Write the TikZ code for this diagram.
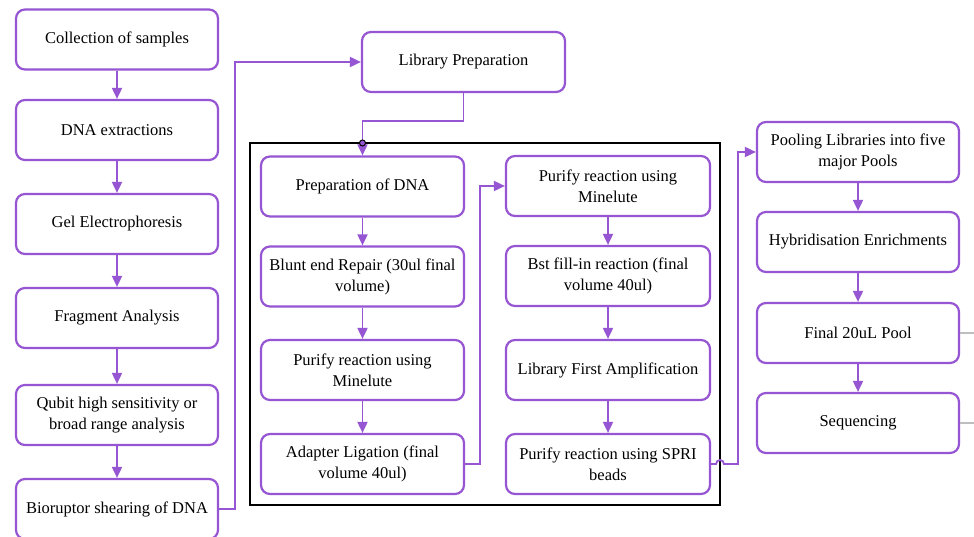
\documentclass[tikz,border=0pt]{standalone}
\usepackage{fontspec}
\setmainfont{Liberation Serif}
\usetikzlibrary{arrows.meta}
\definecolor{pur}{RGB}{150,85,210}
\definecolor{lgray}{RGB}{190,190,190}
\begin{document}
\begin{tikzpicture}[x=1pt,y=-1pt,
  box/.style={draw=pur,line width=2.2pt,rounded corners=9pt,minimum height=60pt,
    align=center,font=\fontsize{16.5}{21}\selectfont,inner sep=2pt},
  lbox/.style={box,minimum width=202pt},
  conn/.style={draw=pur,line width=1.8pt,-{Triangle[width=10pt,length=11pt]}},
  plain/.style={draw=pur,line width=1.8pt}]
\clip (0,0) rectangle (974,537);
\fill[white] (0,0) rectangle (974,537);
% black frame
\draw[line width=2pt] (250,143) rectangle (720,505);
% left column
\node[lbox] (a1) at (117,39.5) {Collection of samples};
\node[lbox] (a2) at (117,130) {DNA extractions};
\node[lbox] (a3) at (117,224) {Gel Electrophoresis};
\node[lbox] (a4) at (117,318) {Fragment Analysis};
\node[lbox] (a5) at (117,415) {Qubit high sensitivity or\\broad range analysis};
\node[lbox] (a6) at (117,509) {Bioruptor shearing of DNA};
% library prep
\node[lbox,minimum width=203pt] (lp) at (463.5,62) {Library Preparation};
% column 1
\node[lbox,minimum width=203pt] (b1) at (362.5,186.5) {Preparation of DNA};
\node[lbox,minimum width=203pt] (b2) at (362.5,276.5) {Blunt end Repair (30ul final\\volume)};
\node[lbox,minimum width=203pt] (b3) at (362.5,370) {Purify reaction using\\Minelute};
\node[lbox,minimum width=203pt] (b4) at (362.5,464) {Adapter Ligation (final\\volume 40ul)};
% column 2
\node[lbox,minimum width=204pt] (c1) at (608,186) {Purify reaction using\\Minelute};
\node[lbox,minimum width=204pt] (c2) at (608,276) {Bst fill-in reaction (final\\volume 40ul)};
\node[lbox,minimum width=204pt] (c3) at (608,370) {Library First Amplification};
\node[lbox,minimum width=204pt] (c4) at (608,464) {Purify reaction using SPRI\\beads};
% column 3
\node[lbox] (d1) at (858,152) {Pooling Libraries into five\\major Pools};
\node[lbox] (d2) at (858,242) {Hybridisation Enrichments};
\node[lbox] (d3) at (858,333) {Final 20uL Pool};
\node[lbox] (d4) at (858,423) {Sequencing};
% vertical arrows
\foreach \p/\q in {a1/a2,a2/a3,a3/a4,a4/a5,a5/a6,b1/b2,b2/b3,b3/b4,c1/c2,c2/c3,c3/c4,d1/d2,d2/d3,d3/d4}
  \draw[conn] (\p.south) -- (\q.north);
% bioruptor -> library prep
\coordinate (j1) at (235,509);
\draw[conn] (a6.east) -- (j1) |- (lp.west);
% library prep -> preparation of DNA
\coordinate (j2) at (463.5,121);
\draw[conn] (lp.south) -- (j2) -| (b1.north);
\draw[black,fill=pur,line width=1pt] (362.5,143) circle (3pt);
% adapter ligation -> purify
\coordinate (j3) at (480,464);
\draw[conn] (b4.east) -- (j3) |- (c1.west);
% SPRI -> pooling
\coordinate (j4) at (716,464);
\coordinate (j5) at (738,464);
\draw[conn] (c4.east) -- (j4) arc[start angle=180,end angle=0,radius=4pt] -- (j5) |- (d1.west);
% gray lines off the edge
\coordinate (e1) at (980,333);
\coordinate (e2) at (980,423);
\draw[lgray,line width=1.2pt] (d3.east) -- (e1);
\draw[lgray,line width=1.2pt] (d4.east) -- (e2);
\end{tikzpicture}
\end{document}
